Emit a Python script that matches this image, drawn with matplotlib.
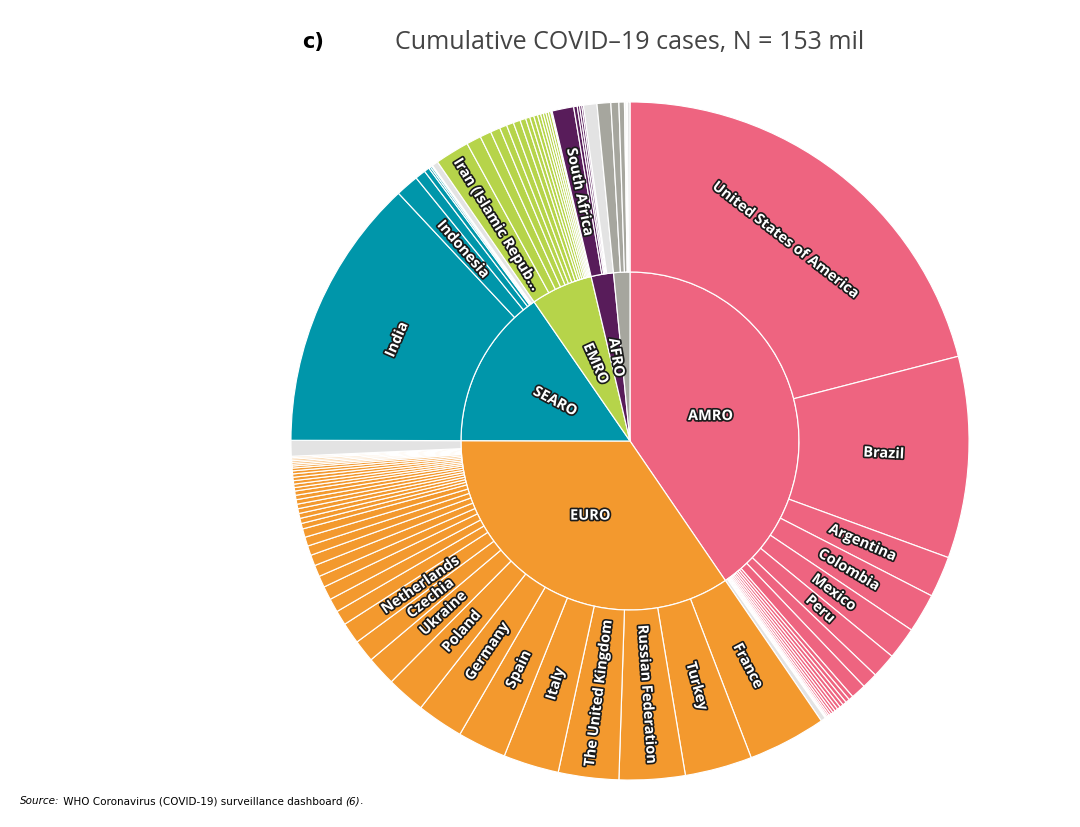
import numpy as np
import matplotlib.pyplot as plt
import matplotlib.patheffects as pe

# WHO regions, clockwise from 12 o'clock
regions = ['AMRO', 'EURO', 'SEARO', 'EMRO', 'AFRO', 'WPRO']
region_colors = ['#EE6480', '#F3992E', '#0096AA', '#B6D44A', '#581C5A', '#A6A69E']
other_color = '#E3E3E3'

# cumulative cases in millions: labelled countries, unlabelled countries, greyed remainder
amro_names = ['United States of America', 'Brazil', 'Argentina', 'Colombia', 'Mexico', 'Peru']
amro_cases = [32.1, 14.7, 3.0, 2.85, 2.35, 1.8]
amro_small = [1.15, 1.1, 0.33, 0.3, 0.28, 0.26, 0.24, 0.22, 0.2, 0.18, 0.15, 0.12, 0.1, 0.07, 0.05]
amro_other = 0.35

euro_names = ['France', 'Turkey', 'Russian Federation', 'The United Kingdom', 'Italy', 'Spain',
              'Germany', 'Poland', 'Ukraine', 'Czechia', 'Netherlands']
euro_cases = [5.7, 4.9, 4.8, 4.4, 4.05, 3.55, 3.4, 2.82, 2.15, 1.63, 1.55]
euro_small = [1.07, 1.0, 0.99, 0.84, 0.84, 0.79, 0.7, 0.66, 0.62, 0.4, 0.38, 0.36, 0.35, 0.33,
              0.33, 0.32, 0.31, 0.25, 0.25, 0.25, 0.25, 0.24, 0.22, 0.2, 0.15, 0.13, 0.13, 0.12,
              0.12, 0.1, 0.1]
euro_other = 1.15

searo_names = ['India', 'Indonesia']
searo_cases = [19.9, 1.68]
searo_small = [0.77, 0.38, 0.14, 0.12, 0.07]
searo_other = 0.44

emro_names = ['Iran (Islamic Repub\u2026']
emro_cases = [2.5]
emro_small = [1.07, 0.82, 0.71, 0.53, 0.52, 0.51, 0.42, 0.31, 0.3, 0.28, 0.23, 0.2, 0.19, 0.18,
              0.18, 0.06]
emro_other = 0.04

afro_names = ['South Africa']
afro_cases = [1.58]
afro_small = [0.26, 0.17, 0.16, 0.12]
afro_other = 0.98

wpro_names = []
wpro_cases = []
wpro_small = [1.0, 0.58, 0.4, 0.1, 0.06, 0.05]
wpro_other = 0.19

groups = [
    (amro_names, amro_cases, amro_small, amro_other),
    (euro_names, euro_cases, euro_small, euro_other),
    (searo_names, searo_cases, searo_small, searo_other),
    (emro_names, emro_cases, emro_small, emro_other),
    (afro_names, afro_cases, afro_small, afro_other),
    (wpro_names, wpro_cases, wpro_small, wpro_other),
]

tangential = {'United States of America', 'India'}
horizontal = {'AMRO', 'EURO'}

# build the outer ring from the groups
region_totals = []
outer_vals, outer_cols, outer_labels = [], [], []
for (names, cases, small, other), col in zip(groups, region_colors):
    region_totals.append(sum(cases) + sum(small) + other)
    outer_vals += list(cases) + list(small) + [other]
    outer_cols += [col] * (len(cases) + len(small)) + [other_color]
    outer_labels += list(names) + [''] * len(small) + ['']

R_IN = 0.4985
LW = 0.85

fig = plt.figure(figsize=(10.8, 8.27), dpi=100)
ax = fig.add_axes([274 / 1080, 30 / 827, 712 / 1080, 712 / 827])

inner, _ = ax.pie(region_totals, radius=R_IN, colors=region_colors, startangle=90,
                  counterclock=False, wedgeprops=dict(edgecolor='white', linewidth=LW))
outer, _ = ax.pie(outer_vals, radius=1.0, colors=outer_cols, startangle=90,
                  counterclock=False,
                  wedgeprops=dict(width=1 - R_IN, edgecolor='white', linewidth=LW))
ax.set_xlim(-1.05, 1.05)
ax.set_ylim(-1.05, 1.05)
ax.set_aspect('equal')
ax.axis('off')

outline = [pe.withStroke(linewidth=2.4, foreground='#1b1b1b')]


def put_label(w, text, r, mode):
    mid = (w.theta1 + w.theta2) / 2
    x = r * np.cos(np.radians(mid))
    y = r * np.sin(np.radians(mid))
    if mode == 'horizontal':
        rot = 0
    elif mode == 'tangential':
        rot = mid - 90
    else:
        rot = mid
    rot = ((rot + 90) % 180) - 90
    ax.text(x, y, text, rotation=rot, rotation_mode='anchor', ha='center', va='center',
            color='white', fontsize=10.5, fontweight='bold', family=['Open Sans', 'DejaVu Sans'],
            path_effects=outline)


for w, name in zip(inner, regions):
    if name == 'WPRO':
        continue
    put_label(w, name, R_IN / 2, 'horizontal' if name in horizontal else 'radial')

for w, name in zip(outer, outer_labels):
    if name:
        put_label(w, name, (1 + R_IN) / 2, 'tangential' if name in tangential else 'radial')

# title
fig.text(313 / 1080, 1 - 42 / 827, 'c)', ha='center', va='center', fontsize=15,
         fontweight='bold', family=['Liberation Sans Narrow', 'DejaVu Sans'], color='black')
fig.text(630 / 1080, 1 - 42 / 827, 'Cumulative COVID\u201319 cases, N = 153 mil', ha='center',
         va='center', fontsize=18, family=['Open Sans', 'DejaVu Sans'], color='#444444')

# source line, built piece by piece
renderer = fig.canvas.get_renderer()
pieces = [('Source:', 'italic'), (' WHO Coronavirus (COVID-19) surveillance dashboard ', 'normal'),
          ('(6)', 'italic'), ('.', 'normal')]
x_px = 20
for txt, style in pieces:
    t = fig.text(x_px / 1080, 1 - 801 / 827, txt, ha='left', va='center', fontsize=7.5,
                 style=style, family=['Liberation Sans Narrow', 'DejaVu Sans'], color='black')
    x_px = t.get_window_extent(renderer).x1

fig.savefig('out.png', dpi=100)
